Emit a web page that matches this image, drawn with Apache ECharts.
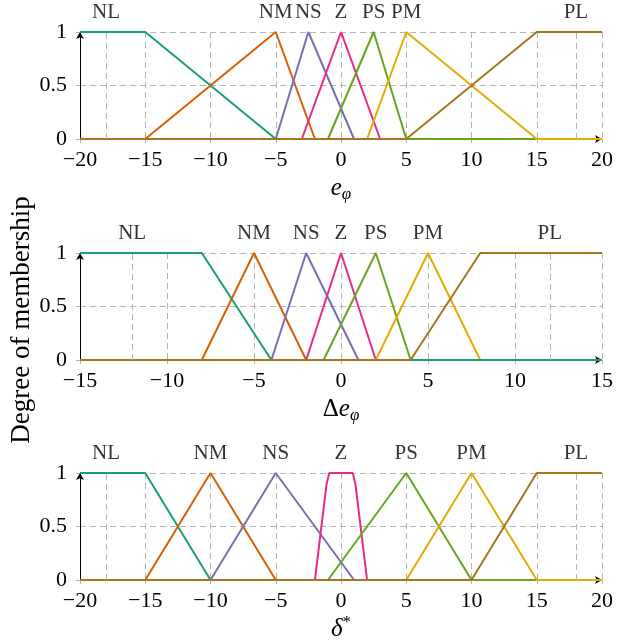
<!DOCTYPE html>
<html>
<head>
<meta charset="utf-8">
<script src="https://cdn.jsdelivr.net/npm/echarts@6/dist/echarts.min.js"></script>
<style>
  html, body { margin: 0; padding: 0; background: #fff; }
  #chart { width: 636px; height: 644px; }
</style>
</head>
<body>
<div id="chart"></div>
<script>
// fuzzy set names, same for every panel
const setNames = ['NL', 'NM', 'NS', 'Z', 'PS', 'PM', 'PL'];
const setColors = ['#1b9e77', '#d95f02', '#7570b3', '#e7298a', '#66a61e', '#e6ab02', '#a6761d'];

// panel 1: e_phi, membership vertices [x, mu]
const ePhiNL = [[-20, 1], [-15, 1], [-5, 0], [20, 0]];
const ePhiNM = [[-20, 0], [-15, 0], [-5, 1], [-2, 0], [20, 0]];
const ePhiNS = [[-20, 0], [-5, 0], [-2.5, 1], [1, 0], [20, 0]];
const ePhiZ  = [[-20, 0], [-3, 0], [0, 1], [3, 0], [20, 0]];
const ePhiPS = [[-20, 0], [-1, 0], [2.5, 1], [5, 0], [20, 0]];
const ePhiPM = [[-20, 0], [2, 0], [5, 1], [15, 0], [20, 0]];
const ePhiPL = [[-20, 0], [5, 0], [15, 1], [20, 1]];
const ePhiLabelX = [-18, -5, -2.5, 0, 2.5, 5, 18];
const ePhiExtraGrid = [-18, 18];

// panel 2: delta e_phi
const dePhiNL = [[-15, 1], [-8, 1], [-4, 0], [15, 0]];
const dePhiNM = [[-15, 0], [-8, 0], [-5, 1], [-2, 0], [15, 0]];
const dePhiNS = [[-15, 0], [-4, 0], [-2, 1], [1, 0], [15, 0]];
const dePhiZ  = [[-15, 0], [-2, 0], [0, 1], [2, 0], [15, 0]];
const dePhiPS = [[-15, 0], [-1, 0], [2, 1], [4, 0], [15, 0]];
const dePhiPM = [[-15, 0], [2, 0], [5, 1], [8, 0], [15, 0]];
const dePhiPL = [[-15, 0], [4, 0], [8, 1], [15, 1]];
const dePhiLabelX = [-12, -5, -2, 0, 2, 5, 12];
const dePhiExtraGrid = [-12, 12];
const dePhiDrawOrder = [1, 2, 3, 4, 5, 0, 6];

// panel 3: delta*
const deltaNL = [[-20, 1], [-15, 1], [-10, 0], [20, 0]];
const deltaNM = [[-20, 0], [-15, 0], [-10, 1], [-5, 0], [20, 0]];
const deltaNS = [[-20, 0], [-10, 0], [-5, 1], [1, 0], [20, 0]];
const deltaZ  = [[-20, 0], [-2, 0], [-1.1, 0.9], [-0.9, 1], [0.9, 1], [1.1, 0.9], [2, 0], [20, 0]];
const deltaPS = [[-20, 0], [-1, 0], [5, 1], [10, 0], [20, 0]];
const deltaPM = [[-20, 0], [5, 0], [10, 1], [15, 0], [20, 0]];
const deltaPL = [[-20, 0], [10, 0], [15, 1], [20, 1]];
const deltaLabelX = [-18, -10, -5, 0, 5, 10, 18];
const deltaExtraGrid = [-18, 18];

const yTicks = [0, 0.5, 1];

const serif = 'Liberation Serif';
const gridColor = '#b4b4b4';

const panels = [
  { sets: [ePhiNL, ePhiNM, ePhiNS, ePhiZ, ePhiPS, ePhiPM, ePhiPL], order: [0, 1, 2, 3, 4, 5, 6],
    min: -20, max: 20, labelX: ePhiLabelX, extra: ePhiExtraGrid, top: 32, name: '{i|e}{sub|φ}' },
  { sets: [dePhiNL, dePhiNM, dePhiNS, dePhiZ, dePhiPS, dePhiPM, dePhiPL], order: dePhiDrawOrder,
    min: -15, max: 15, labelX: dePhiLabelX, extra: dePhiExtraGrid, top: 253, name: '{r|Δ}{i|e}{sub|φ}' },
  { sets: [deltaNL, deltaNM, deltaNS, deltaZ, deltaPS, deltaPM, deltaPL], order: [0, 1, 2, 3, 4, 5, 6],
    min: -20, max: 20, labelX: deltaLabelX, extra: deltaExtraGrid, top: 473, name: '{i|δ}{sup|*}' }
];

const fmtNum = v => (v < 0 ? '\u2212' + (-v) : String(v));

const grid = [], xAxis = [], yAxis = [], series = [];

panels.forEach((p, k) => {
  grid.push({ left: 80, right: 34, top: p.top, height: 107 });
  xAxis.push({
    type: 'value', gridIndex: k, min: p.min, max: p.max, interval: 5,
    axisLine: { show: true, onZero: false, lineStyle: { color: '#000', width: 1 },
                symbol: ['none', 'arrow'], symbolSize: [6, 7] },
    axisTick: { show: true, length: 4, lineStyle: { color: gridColor } },
    axisLabel: { fontFamily: serif, fontSize: 22, color: '#000', margin: 10, formatter: fmtNum },
    splitLine: { show: true, lineStyle: { color: gridColor, type: [6, 4], width: 1 } },
    name: p.name, nameLocation: 'middle', nameGap: 34,
    nameTextStyle: {
      rich: {
        r: { fontFamily: serif, fontSize: 25, color: '#000', lineHeight: 30 },
        i: { fontFamily: serif, fontSize: 25, fontStyle: 'italic', color: '#000', lineHeight: 30 },
        sub: { fontFamily: serif, fontSize: 17, fontStyle: 'italic', color: '#000', lineHeight: 16, verticalAlign: 'bottom' },
        sup: { fontFamily: serif, fontSize: 17, color: '#000', lineHeight: 16, verticalAlign: 'top' }
      }
    }
  });
  yAxis.push({
    type: 'value', gridIndex: k, min: 0, max: 1, interval: 0.5,
    axisLine: { show: true, onZero: false, lineStyle: { color: '#000', width: 1 },
                symbol: ['none', 'arrow'], symbolSize: [6, 7] },
    axisTick: { show: true, length: 4, lineStyle: { color: gridColor } },
    axisLabel: { fontFamily: serif, fontSize: 22, color: '#000', margin: 13,
                 formatter: v => (yTicks.indexOf(v) >= 0 ? String(v) : '') },
    splitLine: { show: true, lineStyle: { color: gridColor, type: [6, 4], width: 1 } }
  });

  // extra dashed grid lines and the set names above the plot
  series.push({
    type: 'scatter', xAxisIndex: k, yAxisIndex: k, silent: true, z: 1,
    symbolSize: 0,
    data: p.labelX.map((x, i) => ({ value: [x, 1], name: setNames[i] })),
    label: { show: true, position: 'top', distance: 9, formatter: '{b}',
             fontFamily: serif, fontSize: 21, color: '#000', lineHeight: 21 },
    markLine: {
      silent: true, symbol: 'none', animation: false,
      label: { show: false },
      lineStyle: { color: gridColor, type: [6, 4], width: 1 },
      data: p.extra.map(x => ({ xAxis: x }))
    }
  });

  p.order.forEach(i => {
    series.push({
      type: 'line', name: setNames[i], xAxisIndex: k, yAxisIndex: k, z: 3,
      data: p.sets[i], showSymbol: false, symbol: 'none', animation: false,
      lineStyle: { color: setColors[i], width: 2 }, itemStyle: { color: setColors[i] }
    });
  });
});

const chart = echarts.init(document.getElementById('chart'));
chart.setOption({
  animation: false,
  backgroundColor: '#fff',
  grid, xAxis, yAxis, series,
  graphic: [{
    type: 'text', x: 22, y: 320, rotation: Math.PI / 2,
    style: { text: 'Degree of membership', fontFamily: serif, fontSize: 27, fill: '#000',
             align: 'center', verticalAlign: 'middle' }
  }]
});
</script>
</body>
</html>
